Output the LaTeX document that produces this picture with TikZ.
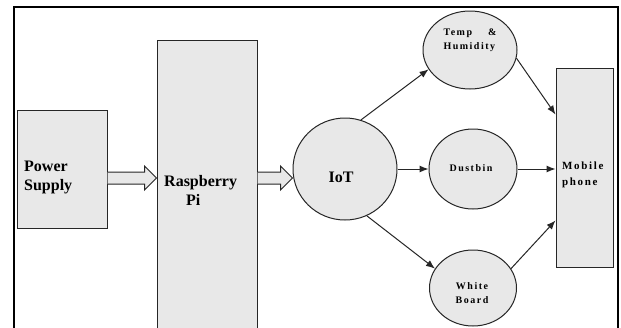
\documentclass[tikz,border=0pt]{standalone}
\usepackage{fontspec}
\setmainfont{Liberation Serif}
\newfontfamily\lblfont[LetterSpace=15]{Liberation Serif}
\usetikzlibrary{calc,arrows.meta,shapes.geometric}
\definecolor{boxgray}{HTML}{E8E8E8}
\begin{document}
\begin{tikzpicture}[x=1pt,y=-1pt,
  box/.style={draw=black!85, line width=1pt, fill=boxgray, inner sep=0pt},
  circ/.style={draw=black!85, line width=1pt, fill=boxgray, ellipse, inner sep=0pt},
  bigtxt/.style={inner sep=0pt, font=\fontsize{16}{19}\selectfont\bfseries},
  smalltxt/.style={inner sep=0pt, font=\lblfont\fontsize{10}{14}\selectfont\bfseries},
  conn/.style={draw=black!85, line width=1pt, -{Latex[length=9pt,width=7pt]}},
  fat/.style={draw=black!85, line width=1pt, fill=boxgray,
    to path={let \p1=(\tikztostart), \p2=(\tikztotarget) in
      (\x1,\y1+6pt) -- (\x2-12pt,\y1+6pt) -- (\x2-12pt,\y1+12pt) -- (\x2,\y1)
      -- (\x2-12pt,\y1-12pt) -- (\x2-12pt,\y1-6pt) -- (\x1,\y1-6pt)}}]
\useasboundingbox (0,0) rectangle (621,327);
\clip (0,0) rectangle (621,327);
\fill[white] (0,0) rectangle (621,327);
% frame
\draw[line width=1.4pt] (14,340) -- (14,7) -- (618,7) -- (618,340);
% blocks
\node[box, minimum width=90pt, minimum height=118pt] (ps) at (62,169) {};
\node[box, minimum width=100pt, minimum height=300pt] (rp) at (207,190) {};
\node[circ, minimum width=104pt, minimum height=102pt] (iot) at (345,169) {};
\node[circ, minimum width=94pt, minimum height=78pt] (temp) at (470,50) {};
\node[circ, minimum width=88pt, minimum height=80pt] (dust) at (473,169) {};
\node[circ, minimum width=87pt, minimum height=76pt] (white) at (473,288) {};
\node[box, minimum width=57pt, minimum height=199pt] (mob) at (584.5,167.5) {};
% texts
\node[bigtxt, align=left, anchor=west] (pst) at (24,177) {Power\\Supply};
\node[bigtxt, align=left, anchor=west] (rpt) at (164,190) {Raspberry\\\hspace*{22pt}Pi};
\node[bigtxt] (iott) at (341,177) {IoT};
\node[smalltxt, text width=53pt, align=left] (tempt) at (470,40) {Temp\hfill\&\\Humidity};
\node[smalltxt] (dustt) at (471,168) {Dustbin};
\node[smalltxt, align=center] (whitet) at (472,293) {White\\Board};
\node[smalltxt, font=\lblfont\fontsize{11}{16}\selectfont\bfseries, align=left, anchor=west] (mobt) at (562,175) {Mobile\\phone};
% connectors
\coordinate (a1) at (0,178);
\draw[fat] (ps.east |- a1) to (rp.west |- a1);
\draw[fat] (rp.east |- a1) to (iot.west |- a1);
\draw[conn] (iot.72) -- (temp.205);
\draw[conn] (iot.east |- dust.west) -- (dust.west);
\draw[conn] (iot.295) -- (white.153);
\draw[conn] (temp.-10) -- ($(mob.north west)+(0,47)$);
\draw[conn] (dust.east) -- (dust.east -| mob.west);
\draw[conn] (white.27) -- ($(mob.south west)+(0,-47)$);
\end{tikzpicture}
\end{document}
